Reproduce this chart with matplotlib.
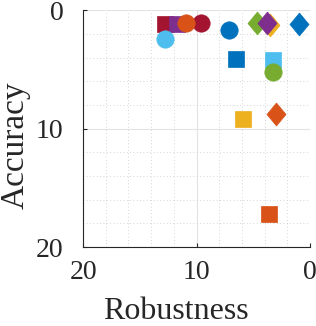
import matplotlib.pyplot as plt
from matplotlib.ticker import MultipleLocator

# MATLAB default colour order
blue = '#0072BD'
orange = '#D95319'
yellow = '#EDB120'
purple = '#7E2F8E'
green = '#77AC30'
cyan = '#4DBEEE'
red = '#A2142F'

# (robustness, accuracy), grouped by marker shape
sq_colors = [red, purple, blue, cyan, yellow, orange]
sq_rob = [12.8, 11.75, 6.5, 3.25, 5.9, 3.6]
sq_acc = [1.2, 1.2, 4.15, 4.2, 9.2, 17.2]

ci_colors = [red, orange, cyan, blue, green]
ci_rob = [9.65, 10.95, 12.8, 7.15, 3.25]
ci_acc = [1.05, 1.05, 2.45, 1.7, 5.2]

di_colors = [yellow, green, purple, blue, orange]
di_rob = [3.5, 4.7, 3.75, 0.95, 3.0]
di_acc = [1.25, 1.05, 1.05, 1.15, 8.8]

diamond = [(0, 1), (0.83, 0), (0, -1), (-0.83, 0), (0, 1)]

plt.rcParams['font.family'] = 'Liberation Serif'

fig = plt.figure(figsize=(3.16, 3.26), dpi=100)
ax = fig.add_axes([0.263, 0.242, 0.718, 0.727])

for c, x, y in zip(sq_colors, sq_rob, sq_acc):
    ax.plot(x, y, 's', color=c, markersize=11, markeredgewidth=0.5, clip_on=False, zorder=3)
for c, x, y in zip(ci_colors, ci_rob, ci_acc):
    ax.plot(x, y, 'o', color=c, markersize=12.5, markeredgewidth=0.5, clip_on=False, zorder=3)
for c, x, y in zip(di_colors, di_rob, di_acc):
    ax.plot(x, y, marker=diamond, linestyle='none', color=c, markersize=16.5,
            markeredgewidth=0.5, clip_on=False, zorder=3)

ax.set_xlim(20, 0)
ax.set_ylim(20, 0)
ax.xaxis.set_major_locator(MultipleLocator(10))
ax.yaxis.set_major_locator(MultipleLocator(10))
ax.xaxis.set_minor_locator(MultipleLocator(2))
ax.yaxis.set_minor_locator(MultipleLocator(2))
ax.grid(which='major', color='#e3e3e3', linewidth=0.8)
ax.grid(which='minor', color='#c8c8c8', linestyle=(0, (1, 3)), linewidth=0.6)
ax.set_axisbelow(True)

for s in ['top', 'right']:
    ax.spines[s].set_visible(False)
for s in ['left', 'bottom']:
    ax.spines[s].set_color('#262626')
    ax.spines[s].set_linewidth(0.8)

ax.tick_params(which='major', direction='in', length=3, width=0.8, color='#262626',
               labelsize=20, labelcolor='#262626')
ax.tick_params(axis='x', which='major', pad=9)
ax.tick_params(axis='y', which='major', pad=14)
ax.tick_params(which='minor', length=0)

ax.set_xlabel('Robustness', fontsize=23, color='#262626')
ax.set_ylabel('Accuracy', fontsize=24, color='#262626')
ax.xaxis.set_label_coords(0.41, -0.21)
ax.yaxis.set_label_coords(-0.233, 0.43)

fig.savefig('out.png', dpi=100)
